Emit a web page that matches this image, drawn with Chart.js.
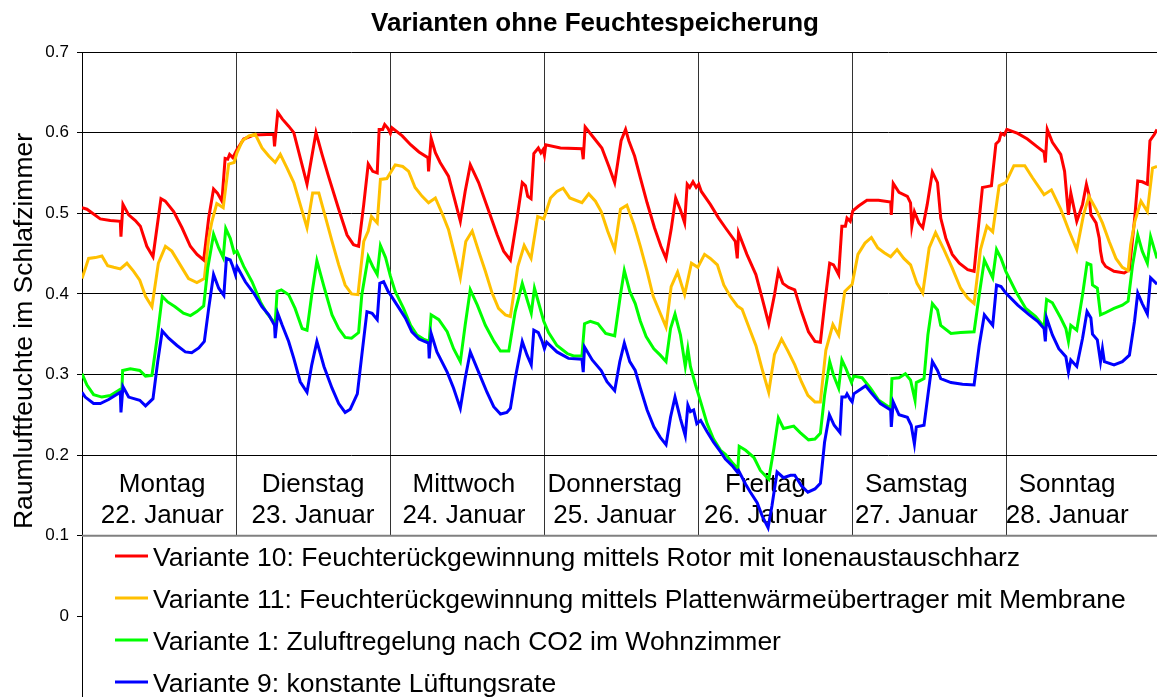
<!DOCTYPE html>
<html>
<head>
<meta charset="utf-8">
<script src="https://cdn.jsdelivr.net/npm/chart.js@4.4.3/dist/chart.umd.min.js"></script>
<style>
    html, body { margin: 0; padding: 0; background: #fff; }
    canvas { display: block; }
</style>
</head>
<body>
<canvas id="chart" width="1157" height="697"></canvas>
<script>
// Stunden ab Montag 0:00, Raumluftfeuchte
const variante10 = [[0,0.507],[0.77,0.505],[2.85,0.493],[4.41,0.491],[5.97,0.490],[6.07,0.471],[6.38,0.511],[7.27,0.498],[8.31,0.491],[9.09,0.484],[10.1,0.459],[11.06,0.446],[12.3,0.518],[12.98,0.515],[14.28,0.502],[15.58,0.482],[16.88,0.459],[17.92,0.449],[18.96,0.442],[19.74,0.494],[20.5,0.530],[21.1,0.525],[21.8,0.515],[22.3,0.568],[22.7,0.567],[23.0,0.573],[23.5,0.569],[24.15,0.579],[25.2,0.592],[26.75,0.597],[29.86,0.598],[30.0,0.583],[30.5,0.625],[31.2,0.617],[32.2,0.608],[33.0,0.600],
    [35.06,0.536],[36.46,0.600],[37.4,0.573],[38.4,0.546],[40.0,0.505],[41.3,0.473],[42.3,0.461],[43.1,0.459],[43.9,0.511],[44.6,0.561],[45.3,0.552],[46.0,0.550],[46.3,0.604],[46.85,0.604],[47.16,0.610],[47.7,0.605],[48.05,0.599],[48.3,0.606],[49.9,0.596],[51.2,0.585],[52.5,0.576],[53.9,0.569],[54.0,0.552],[54.4,0.593],[55.06,0.575],[55.8,0.563],[57.1,0.546],[58.07,0.517],[58.95,0.490],[59.7,0.527],[60.5,0.560],[61.8,0.538],[63.1,0.509],[64.7,0.473],[65.7,0.453],[66.75,0.442],
    [67.8,0.494],[68.6,0.538],[69.1,0.534],[69.45,0.521],[69.97,0.518],[70.4,0.574],[71.1,0.581],[71.5,0.575],[71.84,0.579],[72.05,0.572],[72.26,0.585],[74.55,0.581],[77.9,0.580],[78.1,0.567],[78.4,0.607],[79.7,0.594],[81.0,0.581],[82.1,0.558],[83.0,0.538],[84.0,0.590],[84.7,0.604],[85.2,0.590],[86.1,0.571],[87.0,0.544],[88.05,0.513],[89.2,0.482],[90.2,0.459],[91.0,0.444],[91.8,0.480],[92.5,0.519],[93.25,0.504],[93.9,0.488],[94.3,0.536],[94.7,0.532],[95.2,0.539],[95.7,0.532],[96.1,0.536],[96.5,0.527],[97.9,0.511],[99.2,0.494],
    [100.25,0.482],[101.8,0.465],[102.1,0.444],[102.3,0.476],[103.6,0.449],[105.0,0.424],[105.96,0.395],[107.0,0.363],[107.9,0.399],[108.5,0.428],[109.2,0.413],[110.1,0.408],[111.06,0.405],[112.1,0.378],[113.2,0.353],[114.2,0.341],[115.05,0.340],[115.7,0.386],[116.5,0.438],[117.1,0.436],[117.9,0.424],[118.4,0.484],[118.95,0.484],[119.2,0.494],[119.7,0.490],[120.1,0.503],[121.0,0.509],[122.3,0.516],[124.1,0.516],[126.0,0.514],[126.1,0.498],[126.4,0.537],[127.3,0.526],[128.6,0.521],[129.1,0.513],[129.3,0.484],[129.7,0.502],[130.4,0.488],[131.0,0.482],[131.7,0.511],[132.5,0.551],
    [133.3,0.538],[133.8,0.494],[134.6,0.469],[135.6,0.449],[136.7,0.438],[138.0,0.430],[139.0,0.428],[139.5,0.469],[140.3,0.532],[141.0,0.533],[141.7,0.534],[142.4,0.586],[142.9,0.590],[143.2,0.599],[143.7,0.597],[144.1,0.604],[145.8,0.599],[147.3,0.592],[148.9,0.582],[149.9,0.576],[150.1,0.563],[150.4,0.604],[151.2,0.588],[152.5,0.573],[153.1,0.552],[153.7,0.498],[154.07,0.525],[155.0,0.490],[155.9,0.511],[156.5,0.536],[156.9,0.523],[157.2,0.498],[158.0,0.488],[158.5,0.469],[158.7,0.453],[159.0,0.440],[159.5,0.434],[160.8,0.428],[162.4,0.426],[163.2,0.430],[164.05,0.496],[164.5,0.540],[165.2,0.539],[166.0,0.536],[166.4,0.590],[167.1,0.598],[167.5,0.604]];

const variante11 = [[0,0.419],[1.03,0.444],[2.07,0.445],[3.1,0.447],[4.0,0.435],[4.93,0.433],[5.97,0.431],[7.0,0.438],[8.05,0.428],[9.0,0.417],[9.9,0.397],[10.9,0.384],[11.9,0.438],[13.0,0.459],[14.0,0.453],[15.3,0.436],[16.6,0.419],[17.9,0.414],[19.06,0.419],[19.74,0.469],[20.25,0.490],[21.0,0.512],[22.0,0.507],[22.85,0.561],[23.7,0.563],[24.15,0.575],[25.0,0.590],[26.0,0.596],[27.0,0.598],[28.05,0.581],[29.1,0.571],[30.1,0.563],[30.9,0.573],[31.95,0.556],[33.0,0.538],
    [35.06,0.482],[35.94,0.525],[36.9,0.525],[37.9,0.496],[38.96,0.465],[40.0,0.436],[41.0,0.411],[42.0,0.400],[43.0,0.399],[43.9,0.465],[44.6,0.478],[45.1,0.496],[46.0,0.488],[46.5,0.542],[47.5,0.543],[48.8,0.560],[49.97,0.558],[50.9,0.552],[51.9,0.532],[53.0,0.521],[54.0,0.513],[55.06,0.519],[56.1,0.500],[57.1,0.480],[58.07,0.449],[58.95,0.420],[59.8,0.465],[60.8,0.478],[61.8,0.453],[62.85,0.428],[63.9,0.401],[64.9,0.382],[65.97,0.374],[66.75,0.372],
    [67.9,0.434],[68.9,0.460],[69.97,0.444],[71.0,0.496],[71.95,0.493],[73.0,0.519],[74.0,0.527],[74.96,0.531],[76.0,0.519],[77.9,0.513],[78.96,0.524],[80.0,0.515],[80.9,0.502],[81.9,0.478],[83.0,0.455],[83.9,0.505],[84.9,0.510],[86.0,0.486],[87.0,0.459],[88.05,0.428],[89.0,0.397],[90.1,0.376],[91.0,0.359],[91.8,0.409],[92.8,0.427],[93.9,0.399],[94.96,0.438],[95.95,0.433],[97.0,0.449],[97.9,0.444],[99.0,0.436],[100.0,0.411],
    [101.0,0.397],[102.1,0.385],[102.85,0.381],[103.9,0.359],[105.0,0.336],[105.96,0.307],[107.0,0.278],[107.9,0.325],[109.0,0.344],[110.0,0.329],[111.06,0.312],[112.1,0.291],[113.1,0.274],[114.2,0.266],[115.05,0.266],[115.9,0.330],[117.0,0.362],[117.9,0.349],[118.85,0.403],[120.0,0.412],[120.9,0.449],[122.0,0.463],[123.0,0.470],[124.0,0.457],[125.0,0.451],[126.0,0.446],[127.0,0.455],[128.05,0.444],[129.1,0.436],[130.1,0.413],[131.0,0.401],[132.0,0.457],[133.0,0.476],
    [134.3,0.455],[135.6,0.432],[136.9,0.407],[138.0,0.395],[139.0,0.388],[140.0,0.455],[141.0,0.484],[141.9,0.477],[142.9,0.534],[143.94,0.538],[145.2,0.559],[146.9,0.559],[148.1,0.544],[149.9,0.523],[151.05,0.529],[152.5,0.505],[153.8,0.478],[155.0,0.455],[156.05,0.498],[156.9,0.521],[158.0,0.505],[159.0,0.488],[160.05,0.465],[161.1,0.444],[162.1,0.433],[163.0,0.429],[163.4,0.461],[164.05,0.490],[165.0,0.515],[166.0,0.502],[166.8,0.556],[167.5,0.558]];

const variante1 = [[0,0.301],[0.77,0.287],[1.81,0.275],[3.1,0.272],[4.41,0.274],[6.23,0.283],[6.33,0.305],[7.53,0.307],[9.0,0.305],[9.9,0.298],[10.9,0.299],[11.7,0.345],[12.5,0.397],[13.35,0.390],[14.5,0.384],[15.8,0.376],[16.9,0.373],[17.9,0.378],[18.96,0.385],[19.6,0.432],[20.5,0.474],[21.3,0.457],[22.0,0.445],[22.4,0.481],[23.1,0.469],[23.7,0.451],[24.15,0.453],[25.2,0.434],[26.5,0.415],[27.8,0.390],[28.8,0.376],[30.1,0.363],[30.4,0.403],[31.06,0.405],[32.2,0.399],[33.2,0.382],
    [34.3,0.357],[35.06,0.355],[35.8,0.399],[36.6,0.441],[37.7,0.409],[38.96,0.374],[40.0,0.357],[41.0,0.346],[42.0,0.345],[43.1,0.352],[43.6,0.399],[44.6,0.446],[45.3,0.434],[46.0,0.424],[46.5,0.460],[47.3,0.445],[48.05,0.422],[48.8,0.403],[50.1,0.382],[51.2,0.361],[52.2,0.349],[53.2,0.344],[54.1,0.341],[54.4,0.374],[55.6,0.368],[56.9,0.353],[57.9,0.332],[58.95,0.316],[59.7,0.361],[60.5,0.405],[61.6,0.386],[62.85,0.361],[64.2,0.341],[65.2,0.329],[66.5,0.329],
    [67.5,0.378],[68.6,0.413],[69.35,0.393],[70.0,0.376],[70.5,0.407],[71.0,0.393],[71.95,0.366],[72.7,0.352],[74.0,0.336],[75.6,0.326],[76.6,0.323],[77.9,0.323],[78.3,0.363],[79.2,0.366],[80.4,0.363],[81.6,0.351],[83.0,0.348],[83.9,0.399],[84.5,0.429],[85.35,0.403],[86.2,0.388],[87.0,0.366],[87.9,0.347],[89.1,0.332],[90.1,0.324],[91.0,0.316],[91.7,0.357],[92.4,0.375],[93.25,0.349],[94.0,0.310],[94.4,0.332],[94.8,0.310],[95.6,0.287],[96.4,0.266],[97.4,0.239],[98.4,0.220],[99.5,0.206],
    [100.25,0.201],[101.3,0.191],[102.2,0.183],[102.4,0.211],[103.4,0.206],[104.7,0.197],[105.7,0.181],[107.0,0.170],[107.8,0.208],[108.5,0.246],[109.3,0.233],[110.9,0.236],[111.9,0.228],[113.2,0.219],[114.2,0.220],[115.05,0.227],[115.7,0.274],[116.5,0.316],[117.1,0.299],[117.9,0.283],[118.4,0.318],[119.05,0.307],[119.9,0.290],[120.25,0.298],[121.55,0.296],[122.85,0.283],[124.15,0.268],[126.0,0.258],[126.2,0.295],[127.3,0.296],[128.3,0.301],[129.1,0.293],[129.8,0.268],[130.0,0.290],[131.2,0.295],[131.8,0.349],[132.5,0.388],
    [133.3,0.380],[133.8,0.361],[135.4,0.351],[136.9,0.352],[139.0,0.353],[139.8,0.399],[140.6,0.442],[141.9,0.420],[142.5,0.455],[143.2,0.444],[143.94,0.428],[145.5,0.403],[147.05,0.382],[148.6,0.372],[149.9,0.359],[150.3,0.393],[151.2,0.389],[152.5,0.370],[153.3,0.357],[153.7,0.341],[154.07,0.361],[155.0,0.355],[155.9,0.399],[156.6,0.438],[157.2,0.436],[157.45,0.411],[158.2,0.407],[158.7,0.374],[159.3,0.376],[160.8,0.382],[162.1,0.386],[163.0,0.391],[163.7,0.436],[164.5,0.473],[165.2,0.453],[166.0,0.438],[166.5,0.471],[167.5,0.444]];

const variante9 = [[0,0.278],[0.5,0.272],[1.8,0.264],[2.85,0.264],[4.15,0.269],[5.97,0.278],[6.07,0.253],[6.38,0.285],[7.27,0.272],[9.0,0.268],[9.9,0.261],[11.06,0.270],[11.8,0.316],[12.5,0.354],[13.5,0.345],[14.8,0.336],[16.1,0.328],[17.1,0.327],[18.2,0.333],[19.06,0.341],[19.74,0.382],[20.5,0.424],[21.3,0.407],[22.1,0.398],[22.5,0.444],[23.1,0.442],[23.5,0.434],[23.9,0.424],[24.15,0.434],[25.45,0.415],[26.75,0.401],[28.05,0.384],[29.1,0.374],[30.0,0.361],[30.1,0.345],[30.5,0.376],[31.2,0.361],[32.2,0.341],[33.0,0.320],
    [34.0,0.291],[35.06,0.278],[35.8,0.312],[36.6,0.341],[37.7,0.310],[38.96,0.283],[40.0,0.264],[41.0,0.253],[41.8,0.257],[42.9,0.276],[43.6,0.324],[44.4,0.378],[45.2,0.376],[46.0,0.368],[46.4,0.413],[47.0,0.415],[47.7,0.403],[48.05,0.399],[49.1,0.386],[50.4,0.370],[51.4,0.353],[52.5,0.344],[54.0,0.339],[54.1,0.320],[54.4,0.351],[55.3,0.328],[56.9,0.303],[57.9,0.283],[58.95,0.258],[59.7,0.295],[60.5,0.328],[61.8,0.303],[63.1,0.278],[64.15,0.260],[65.2,0.251],[66.2,0.253],
    [66.75,0.258],[67.5,0.295],[68.6,0.341],[69.35,0.324],[70.0,0.312],[70.4,0.355],[71.1,0.352],[71.7,0.341],[72.05,0.332],[72.4,0.340],[74.0,0.328],[75.8,0.320],[77.9,0.319],[78.1,0.303],[78.3,0.334],[79.5,0.318],[80.9,0.305],[81.8,0.291],[83.0,0.280],[83.8,0.316],[84.5,0.339],[85.35,0.316],[86.2,0.305],[87.0,0.283],[88.05,0.256],[89.1,0.235],[90.1,0.222],[91.0,0.213],[91.7,0.247],[92.4,0.272],[93.25,0.245],[94.0,0.224],[94.4,0.262],[94.8,0.254],[95.3,0.256],[95.8,0.239],[96.4,0.243],[97.4,0.229],[98.4,0.216],[99.5,0.204],
    [100.25,0.195],[101.3,0.187],[102.1,0.179],[102.3,0.181],[103.4,0.164],[104.15,0.154],[105.2,0.141],[105.96,0.125],[106.9,0.110],[107.5,0.137],[108.3,0.179],[109.3,0.172],[110.4,0.175],[111.06,0.175],[112.1,0.162],[113.1,0.154],[114.2,0.158],[115.05,0.165],[115.7,0.216],[116.45,0.250],[117.2,0.237],[118.1,0.228],[118.4,0.272],[118.95,0.272],[119.2,0.276],[119.7,0.269],[120.0,0.266],[120.25,0.276],[121.55,0.283],[122.1,0.286],[123.1,0.276],[124.4,0.264],[126.0,0.256],[126.1,0.235],[126.4,0.266],[127.3,0.250],[128.6,0.247],[129.2,0.237],[129.7,0.214],[130.0,0.235],[131.2,0.237],[131.8,0.274],[132.5,0.316],
    [133.3,0.305],[133.8,0.295],[135.4,0.290],[137.2,0.288],[139.0,0.287],[139.8,0.336],[140.6,0.374],[141.9,0.361],[142.5,0.411],[143.2,0.409],[143.94,0.401],[145.8,0.386],[147.6,0.374],[148.9,0.366],[149.9,0.357],[150.1,0.341],[150.3,0.370],[151.2,0.349],[152.2,0.332],[153.3,0.322],[153.7,0.303],[154.07,0.318],[155.0,0.310],[155.9,0.345],[156.6,0.378],[157.2,0.370],[157.45,0.350],[158.2,0.343],[158.7,0.316],[159.0,0.332],[159.3,0.316],[160.8,0.312],[162.1,0.316],[163.2,0.324],[164.0,0.366],[164.5,0.401],[165.2,0.388],[166.0,0.375],[166.5,0.420],[167.5,0.412]];

const seriesLabels = [
    'Variante 10: Feuchterückgewinnung mittels Rotor mit Ionenaustauschharz',
    'Variante 11: Feuchterückgewinnung mittels Plattenwärmeübertrager mit Membrane',
    'Variante 1: Zuluftregelung nach CO2 im Wohnzimmer',
    'Variante 9: konstante Lüftungsrate'
];
const seriesColors = ['#ff0000', '#ffc000', '#00ff00', '#0000ff'];
const dayNames = ['Montag', 'Dienstag', 'Mittwoch', 'Donnerstag', 'Freitag', 'Samstag', 'Sonntag'];
const dayDates = ['22. Januar', '23. Januar', '24. Januar', '25. Januar', '26. Januar', '27. Januar', '28. Januar'];
const dayTicks = [24, 48, 72, 96, 120, 144];
const yTicks = [0, 0.1, 0.2, 0.3, 0.4, 0.5, 0.6, 0.7];

const FONT = '"Liberation Sans", Arial, sans-serif';

// Legendenfeld, Tagesbeschriftungen, Titel
const decorations = {
    id: 'decorations',
    beforeDatasetsDraw(chart) {
        const { ctx, chartArea: a, scales: { x, y } } = chart;
        const y01 = y.getPixelForValue(0.1);
        ctx.save();
        ctx.fillStyle = '#fff';
        ctx.fillRect(a.left + 1, y01, a.right - a.left, a.bottom - y01);
        ctx.strokeStyle = '#808080';
        ctx.lineWidth = 2;
        ctx.beginPath();
        ctx.moveTo(a.left, y01);
        ctx.lineTo(a.right, y01);
        ctx.stroke();

        ctx.fillStyle = '#000';
        ctx.font = '26px ' + FONT;
        ctx.textAlign = 'center';
        ctx.textBaseline = 'alphabetic';
        dayNames.forEach((name, i) => {
            const cx = x.getPixelForValue(12.5 + 23.5 * i);
            ctx.fillText(name, cx, 492);
            ctx.fillText(dayDates[i], cx, 523);
        });
        ctx.restore();
    },
    afterDraw(chart) {
        const { ctx } = chart;
        ctx.save();
        ctx.fillStyle = '#000';
        ctx.textBaseline = 'alphabetic';

        ctx.font = 'bold 26px ' + FONT;
        ctx.textAlign = 'center';
        ctx.fillText('Varianten ohne Feuchtespeicherung', 595, 31);

        ctx.save();
        ctx.translate(32, 331);
        ctx.rotate(-Math.PI / 2);
        ctx.font = '26.5px ' + FONT;
        ctx.fillText('Raumluftfeuchte im Schlafzimmer', 0, 0);
        ctx.restore();

        ctx.font = '26.5px ' + FONT;
        ctx.textAlign = 'left';
        chart.data.datasets.forEach((ds, i) => {
            const base = 566 + 42 * i;
            ctx.strokeStyle = ds.borderColor;
            ctx.lineWidth = 3;
            ctx.beginPath();
            ctx.moveTo(115, base - 10);
            ctx.lineTo(148, base - 10);
            ctx.stroke();
            ctx.fillText(ds.label, 153, base);
        });
        ctx.restore();
    }
};

const seriesData = [variante10, variante11, variante1, variante9];

new Chart(document.getElementById('chart'), {
    type: 'line',
    data: {
        datasets: seriesData.map((pts, i) => ({
            label: seriesLabels[i],
            data: pts.map(p => ({ x: p[0], y: p[1] })),
            borderColor: seriesColors[i],
            backgroundColor: seriesColors[i],
            borderWidth: 3,
            pointRadius: 0,
            tension: 0,
            fill: false,
            order: seriesData.length - 1 - i
        }))
    },
    options: {
        responsive: false,
        animation: false,
        devicePixelRatio: 1,
        layout: { padding: { top: 52, left: 0, right: 0, bottom: 0 } },
        plugins: {
            legend: { display: false },
            title: { display: false },
            tooltip: { enabled: false }
        },
        scales: {
            x: {
                type: 'linear',
                min: 0,
                max: 167.5,
                afterBuildTicks: s => { s.ticks = dayTicks.map(v => ({ value: v })); },
                ticks: { display: false },
                grid: { color: '#333', lineWidth: 1, drawTicks: false },
                border: { display: false }
            },
            y: {
                min: -0.1,
                max: 0.7,
                afterBuildTicks: s => { s.ticks = yTicks.map(v => ({ value: v })); },
                afterFit: s => {
                    s.width = 82;
                    s.paddingTop = 0;
                    s.paddingBottom = 0;
                },
                ticks: {
                    color: '#000',
                    padding: 8,
                    font: { family: FONT, size: 17 },
                    callback: v => v === 0 ? '0' : v.toFixed(1)
                },
                grid: {
                    color: c => (c.tick && c.tick.value === 0) ? 'rgba(0,0,0,0)' : '#000',
                    tickColor: '#000',
                    tickLength: 5,
                    lineWidth: 1
                },
                border: { color: '#000', width: 1 }
            }
        }
    },
    plugins: [decorations]
});
</script>
</body>
</html>
